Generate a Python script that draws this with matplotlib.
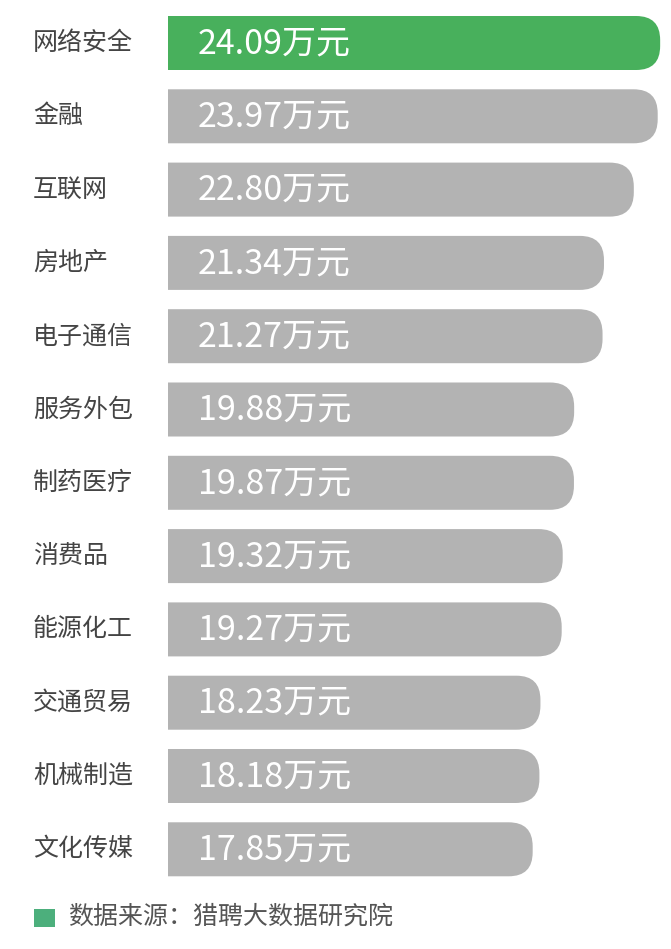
import matplotlib.pyplot as plt
from matplotlib.patches import FancyBboxPatch, Rectangle

plt.rcParams['font.family'] = ['Noto Sans CJK SC', 'DejaVu Sans']

industries = ['网络安全', '金融', '互联网', '房地产', '电子通信', '服务外包',
              '制药医疗', '消费品', '能源化工', '交通贸易', '机械制造', '文化传媒']
salaries = [24.09, 23.97, 22.80, 21.34, 21.27, 19.88,
            19.87, 19.32, 19.27, 18.23, 18.18, 17.85]
unit = '万元'
source = '数据来源：猎聘大数据研究院'

W, H = 671, 949
fig = plt.figure(figsize=(W / 100, H / 100), dpi=100)
fig.patch.set_facecolor('white')

# axes mapped so that x=0 sits at 168px
left_px = 168
px_per_unit = 20.43
ax = fig.add_axes([left_px / W, 0, 1 - left_px / W, 1])
ax.set_xlim(0, (W - left_px) / px_per_unit)
step = 73.3
top0 = 43
ax.set_ylim((H - top0) / step, -top0 / step)
ax.axis('off')

green = '#48b05c'
gray = '#b3b3b3'
bar_h = 54 / step
rx = 24 / px_per_unit
ry = 24 / step

for i, (name, val) in enumerate(zip(industries, salaries)):
    c = green if i == 0 else gray
    # rounded box starting left of x=0; the axes clip gives the flat left end
    box = FancyBboxPatch((-3 * rx, i - bar_h / 2), val + 3 * rx, bar_h,
                         boxstyle=f'round,pad=0,rounding_size={rx}',
                         mutation_aspect=ry / rx, fc=c, ec='none', lw=0)
    ax.add_patch(box)
    ax.text(30 / px_per_unit, i + 0.01, f'{val:.2f}{unit}', color='white',
            fontsize=24.5, va='center', ha='left')
    fig.text(33 / W, 1 - (top0 + i * step) / H, name, color='#444444',
             fontsize=18, va='center', ha='left')

# source note
fig.patches.append(Rectangle((34 / W, 1 - 927 / H), 21 / W, 18 / H,
                             transform=fig.transFigure, color='#4caf7c',
                             lw=0))
fig.text(68 / W, 1 - 917 / H, source, color='#555555', fontsize=18,
         va='center', ha='left')

fig.savefig('out.png', dpi=100)
